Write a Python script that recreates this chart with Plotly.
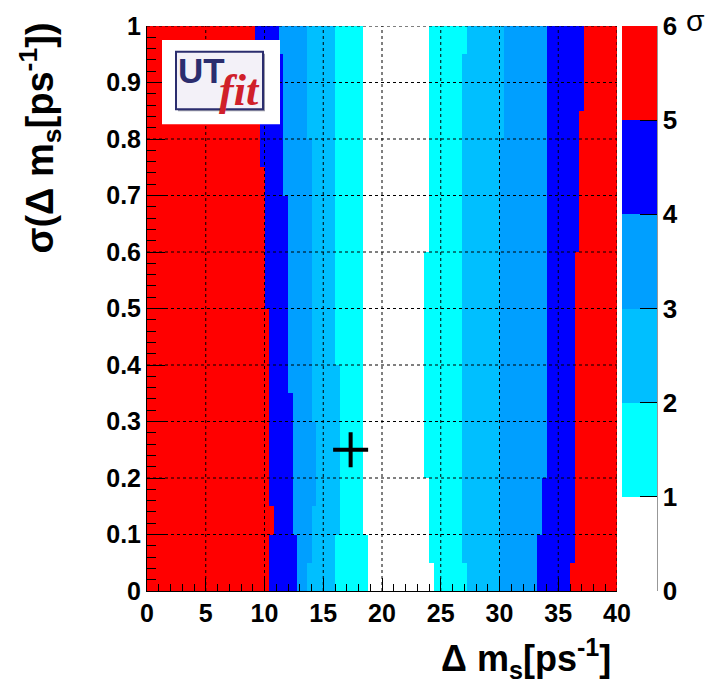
import numpy as np
import plotly.graph_objects as go

# ---------------- data ----------------
# 2D histogram: 100 bins in Δm_s (0..40), 20 bins in σ(Δm_s) (0..1)
x_lo, x_hi, n_xbins = 0.0, 40.0, 100
y_lo, y_hi, n_ybins = 0.0, 1.0, 20

# Δm_s positions where the significance level changes, one value per
# σ(Δm_s) row (rows listed from σ=0 upward)
red_to_blue = [10.4, 10.4, 10.8, 10.4, 10.4, 10.4, 10.4, 10.4, 10.4, 10.4,
               10.0, 10.0, 10.0, 10.0, 10.0, 9.6, 9.6, 9.6, 9.2, 9.2]
blue_to_4 = [12.8, 12.8, 12.4, 12.4, 12.4, 12.4, 12.4, 12.0, 12.0, 12.0,
             12.0, 12.0, 12.0, 12.0, 11.6, 11.6, 11.6, 11.6, 11.6, 11.2]
lev4_to_3 = [13.6, 14.0, 14.0, 14.4, 14.4, 14.4, 14.0, 14.0, 14.0, 14.0,
             14.0, 14.0, 14.0, 14.0, 14.0, 14.0, 13.6, 13.6, 13.6, 13.6]
lev3_to_2 = [16.0, 16.0, 16.4, 16.4, 16.4, 16.4, 16.4, 16.4, 16.0, 16.0,
             16.0, 16.0, 16.0, 16.0, 16.0, 16.0, 16.0, 16.0, 16.0, 16.0]
lev2_to_1 = [18.8, 18.8, 18.4, 18.4, 18.4, 18.4, 18.4, 18.4, 18.4, 18.4,
             18.4, 18.4, 18.4, 18.4, 18.4, 18.4, 18.4, 18.4, 18.4, 18.4]
lev1_to_2 = [24.4, 24.0, 24.0, 24.0, 23.6, 23.6, 23.6, 23.6, 23.6, 23.6,
             23.6, 23.6, 24.0, 24.0, 24.0, 24.0, 24.0, 24.0, 24.0, 24.0]
lev2_to_3 = [27.2, 26.8, 26.8, 26.8, 26.8, 26.8, 26.8, 26.8, 26.8, 26.8,
             26.8, 26.8, 26.8, 26.8, 26.8, 26.8, 26.8, 26.8, 26.8, 27.2]
lev3_to_4 = [30.0, 30.0, 30.0, 30.0, 30.0, 30.0, 30.0, 30.0, 30.0, 30.0,
             30.0, 30.0, 30.0, 30.0, 30.0, 30.0, 30.4, 30.4, 30.4, 30.4]
lev4_to_blue = [33.2, 33.2, 33.6, 33.6, 34.0, 34.0, 34.0, 34.0, 34.0, 34.0,
                34.0, 34.0, 34.0, 34.0, 34.0, 34.0, 34.0, 34.0, 34.0, 34.0]
blue_to_red = [36.0, 36.4, 36.4, 36.4, 36.4, 36.4, 36.4, 36.4, 36.4, 36.4,
               36.4, 36.4, 36.8, 36.8, 36.8, 36.8, 36.8, 37.2, 37.2, 37.2]

# significance (σ) band of each region, from left to right
region_sigma = [5.5, 4.5, 3.5, 2.5, 1.5, 0.5, 1.5, 2.5, 3.5, 4.5, 5.5]

# best-fit point
best_dms = [17.33]
best_sigma = [0.25]

x_ticks = [0, 5, 10, 15, 20, 25, 30, 35, 40]
y_ticks = [0, 0.1, 0.2, 0.3, 0.4, 0.5, 0.6, 0.7, 0.8, 0.9, 1]
y_ticktext = ["0", "0.1", "0.2", "0.3", "0.4", "0.5", "0.6", "0.7", "0.8", "0.9", "1"]
cb_ticks = [0, 1, 2, 3, 4, 5, 6]

# ---------------- build histogram ----------------
x_edges = np.linspace(x_lo, x_hi, n_xbins + 1)
y_edges = np.linspace(y_lo, y_hi, n_ybins + 1)
xc = 0.5 * (x_edges[:-1] + x_edges[1:])
yc = 0.5 * (y_edges[:-1] + y_edges[1:])
bounds = np.array([red_to_blue, blue_to_4, lev4_to_3, lev3_to_2, lev2_to_1,
                   lev1_to_2, lev2_to_3, lev3_to_4, lev4_to_blue, blue_to_red]).T
levels = np.array(region_sigma)
z = np.zeros((n_ybins, n_xbins))
for i in range(n_ybins):
    idx = np.searchsorted(bounds[i], xc, side="right")
    z[i] = levels[idx]

cols = ["#FFFFFF", "#00FFFF", "#00BFFF", "#009FFF", "#0000FF", "#FF0000"]
cscale = []
for k, c in enumerate(cols):
    cscale.append([k / 6, c])
    cscale.append([(k + 1) / 6, c])

FONT = "Liberation Sans, Arial, sans-serif"
TICKSIZE = 25

fig = go.Figure()
fig.add_trace(go.Heatmap(
    x=xc, y=yc, z=z, zmin=0, zmax=6, colorscale=cscale,
    hoverinfo="skip",
    colorbar=dict(
        x=(622 - 147) / 470, xanchor="left", xpad=0,
        y=0, yanchor="bottom", len=1, ypad=0,
        thickness=35, thicknessmode="pixels", outlinewidth=0,
        tickvals=cb_ticks, ticktext=[str(t) for t in cb_ticks],
        ticks="inside", ticklen=17, tickwidth=1, tickcolor="black",
        tickfont=dict(family=FONT, size=26, color="black", weight="bold"),
    ),
))
fig.add_trace(go.Scatter(
    x=best_dms, y=best_sigma, mode="markers",
    marker=dict(symbol="cross-thin", size=25, line=dict(width=4, color="black")),
    hoverinfo="skip", showlegend=False,
))

shapes = []
for xv in x_ticks[1:]:
    shapes.append(dict(type="line", xref="x", yref="y", x0=xv, x1=xv, y0=y_lo, y1=y_hi,
                       line=dict(color="black", width=1, dash="dot"), layer="above"))
for yv in y_ticks[1:]:
    shapes.append(dict(type="line", xref="x", yref="y", x0=x_lo, x1=x_hi, y0=yv, y1=yv,
                       line=dict(color="black", width=1, dash="dot"), layer="above"))
# colorbar axis line
shapes.append(dict(type="line", xref="paper", yref="paper", x0=(657 - 147) / 470,
                   x1=(657 - 147) / 470, y0=0, y1=1, line=dict(color="#333", width=1)))
# logo box
shapes.append(dict(type="rect", xref="paper", yref="paper",
                   x0=15 / 470, x1=133 / 470, y0=1 - 99 / 570, y1=1 - 14 / 570,
                   fillcolor="white", line=dict(width=0), layer="above"))
shapes.append(dict(type="rect", xref="paper", yref="paper",
                   x0=31 / 470, x1=118 / 470, y0=1 - 86 / 570, y1=1 - 28 / 570,
                   fillcolor="#9a9aa8", line=dict(width=0), layer="above"))
shapes.append(dict(type="rect", xref="paper", yref="paper",
                   x0=29 / 470, x1=116 / 470, y0=1 - 84 / 570, y1=1 - 26 / 570,
                   fillcolor="#F3F1F8", line=dict(color="#2B2D6E", width=2), layer="above"))
fig.update_layout(shapes=shapes)

annotations = [
    dict(text="UT", xref="paper", yref="paper", x=(201 - 147) / 470, y=1 - (66 - 21) / 570,
         xanchor="center", yanchor="middle", showarrow=False,
         font=dict(family=FONT, size=35, color="#2B2D6E", weight="bold")),
    dict(text="<i>fit</i>", xref="paper", yref="paper", x=(239 - 147) / 470, y=1 - (86 - 21) / 570,
         xanchor="center", yanchor="middle", showarrow=False,
         font=dict(family="Liberation Serif, serif", size=44, color="#D0202A", weight="bold")),
    dict(text="<b>Δ m<sub>s</sub>[ps<sup>-1</sup>]</b>", xref="paper", yref="paper",
         x=(613 - 147) / 470, y=1 - (659 - 21) / 570, xanchor="right", yanchor="middle",
         showarrow=False, font=dict(family=FONT, size=36, color="black")),
    dict(text="<b>σ(Δ m<sub>s</sub>[ps<sup>-1</sup>])</b>", xref="paper", yref="paper",
         x=(40 - 147) / 470, y=1 + (21 - 16) / 570, xanchor="center", yanchor="top",
         textangle=-90, showarrow=False, font=dict(family=FONT, size=38, color="black")),
    dict(text="σ", xref="paper", yref="paper", x=(695 - 147) / 470, y=1 + (21 - 15) / 570,
         xanchor="center", yanchor="middle", showarrow=False,
         font=dict(family=FONT, size=30, color="black")),
]
fig.update_layout(annotations=annotations)

fig.update_layout(
    width=714, height=690,
    margin=dict(l=147, r=97, t=21, b=99, pad=0),
    paper_bgcolor="white", plot_bgcolor="white",
    showlegend=False,
    xaxis=dict(range=[x_lo, x_hi], tickvals=x_ticks, ticks="inside", ticklen=13,
               tickwidth=1, tickcolor="black", showgrid=False, zeroline=False,
               showline=True, linecolor="black", linewidth=1, mirror=False,
               layer="above traces",
               tickfont=dict(family=FONT, size=TICKSIZE, color="black", weight="bold"),
               minor=dict(ticks="inside", dtick=1, ticklen=7, tickcolor="black",
                          tickwidth=1, showgrid=False)),
    yaxis=dict(range=[y_lo, y_hi], tickvals=y_ticks, ticktext=y_ticktext, ticks="inside",
               ticklen=18, tickwidth=1, tickcolor="black", showgrid=False, zeroline=False,
               showline=True, linecolor="black", linewidth=1, mirror=False,
               layer="above traces",
               tickfont=dict(family=FONT, size=TICKSIZE, color="black", weight="bold"),
               minor=dict(ticks="inside", dtick=0.02, ticklen=9, tickcolor="black",
                          tickwidth=1, showgrid=False)),
)

fig.write_html("out.html", config={"displayModeBar": False},
               post_script="document.body.style.margin='0px';")
